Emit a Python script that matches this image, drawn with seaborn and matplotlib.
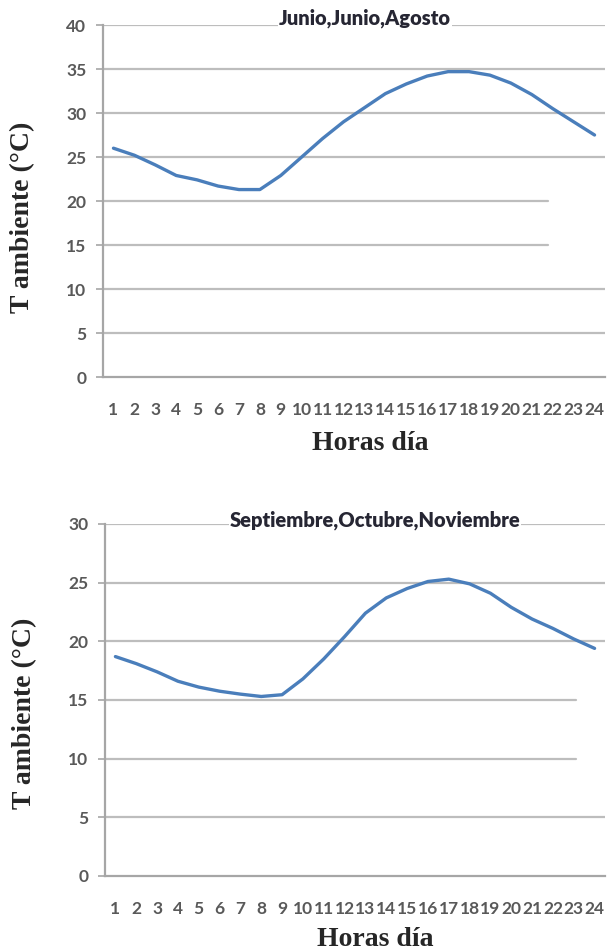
import numpy as np
import pandas as pd
import matplotlib
matplotlib.use("Agg")
import matplotlib.pyplot as plt
import seaborn as sns

# --- data ---
horas = list(range(1, 25))
temp_verano = [26.0, 25.2, 24.1, 22.9, 22.4, 21.7, 21.3, 21.3, 22.9, 25.0, 27.1, 29.0,
               30.6, 32.2, 33.3, 34.2, 34.7, 34.7, 34.3, 33.4, 32.1, 30.5, 29.0, 27.5]
temp_otono = [18.7, 18.1, 17.4, 16.6, 16.1, 15.75, 15.5, 15.3, 15.45, 16.8, 18.5, 20.4,
              22.4, 23.7, 24.5, 25.1, 25.3, 24.9, 24.1, 22.9, 21.9, 21.1, 20.2, 19.4]
titulos = ["Junio,Junio,Agosto", "Septiembre,Octubre,Noviembre"]
y_max = [40, 30]

sns.set_theme(style="white")
plt.rcParams['font.family'] = ['Lato', 'DejaVu Sans']

LINE = "#4a7ebb"
GRID = "#bdbdbd"
TICK = "#595959"

fig = plt.figure(figsize=(6.07, 9.52), dpi=100)
# axes placed to match the two stacked Excel charts
ax1 = fig.add_axes([103 / 607, 575 / 952, 502 / 607, 352 / 952])
ax2 = fig.add_axes([105 / 607, 76 / 952, 500 / 607, 352 / 952])

panels = [
    (ax1, temp_verano, titulos[0], y_max[0], {15: 0.886, 20: 0.886}, 0.522, 1.018, 217, 23, 443, 370),
    (ax2, temp_otono, titulos[1], y_max[1], {10: 0.942, 15: 0.942}, 0.54, 1.01, 713, 25, 940, 375),
]

for ax, vals, titulo, ymax, cortas, tx, ty, ylab_y, ylab_x, xlab_y, xlab_x in panels:
    df = pd.DataFrame({"hora": horas, "temp": vals})
    sns.lineplot(data=df, x="hora", y="temp", ax=ax, color=LINE, linewidth=2.4)

    ax.set_xlim(0.5, 24.5)
    ax.set_ylim(0, ymax)

    # horizontal gridlines (some cut short as in the scan)
    for v in range(5, ymax + 1, 5):
        ax.axhline(v, xmin=0, xmax=cortas.get(v, 1.0), color=GRID, lw=1.6, zorder=0)

    for s in ["top", "right"]:
        ax.spines[s].set_visible(False)
    for s in ["left", "bottom"]:
        ax.spines[s].set_color("#a6a6a6")
        ax.spines[s].set_linewidth(1.6)

    ax.set_xticks(horas)
    ax.set_xticklabels([str(h) for h in horas])
    ax.set_xticks(np.arange(0.5, 25, 1), minor=True)
    ax.tick_params(axis="x", which="major", length=0, pad=18, labelsize=12.5,
                   labelcolor=TICK)
    ax.tick_params(axis="x", which="minor", length=4, width=1.2, color="#a6a6a6",
                   direction="out")
    ax.set_yticks(range(0, ymax + 1, 5))
    ax.tick_params(axis="y", length=5, width=1.2, color="#a6a6a6", pad=7,
                   labelsize=12.5, labelcolor=TICK, left=True)
    for lab in ax.get_xticklabels() + ax.get_yticklabels():
        lab.set_fontweight("bold")

    ax.set_xlabel("")
    ax.set_ylabel("")

    ax.text(tx, ty, titulo, transform=ax.transAxes, ha="center", va="center",
            fontsize=14.5, fontweight="heavy", color="#262633",
            bbox=dict(facecolor="white", edgecolor="none", pad=0.5), zorder=5)

    fig.text(ylab_x / 607, 1 - ylab_y / 952, "T ambiente (°C)", rotation=90,
             ha="center", va="center", fontsize=20, fontweight="bold",
             family=["Liberation Serif", "DejaVu Serif"])
    fig.text(xlab_x / 607, 1 - xlab_y / 952, "Horas día", ha="center", va="center",
             fontsize=20, fontweight="bold",
             family=["Liberation Serif", "DejaVu Serif"])

fig.savefig("out.png", dpi=100, facecolor="white")
